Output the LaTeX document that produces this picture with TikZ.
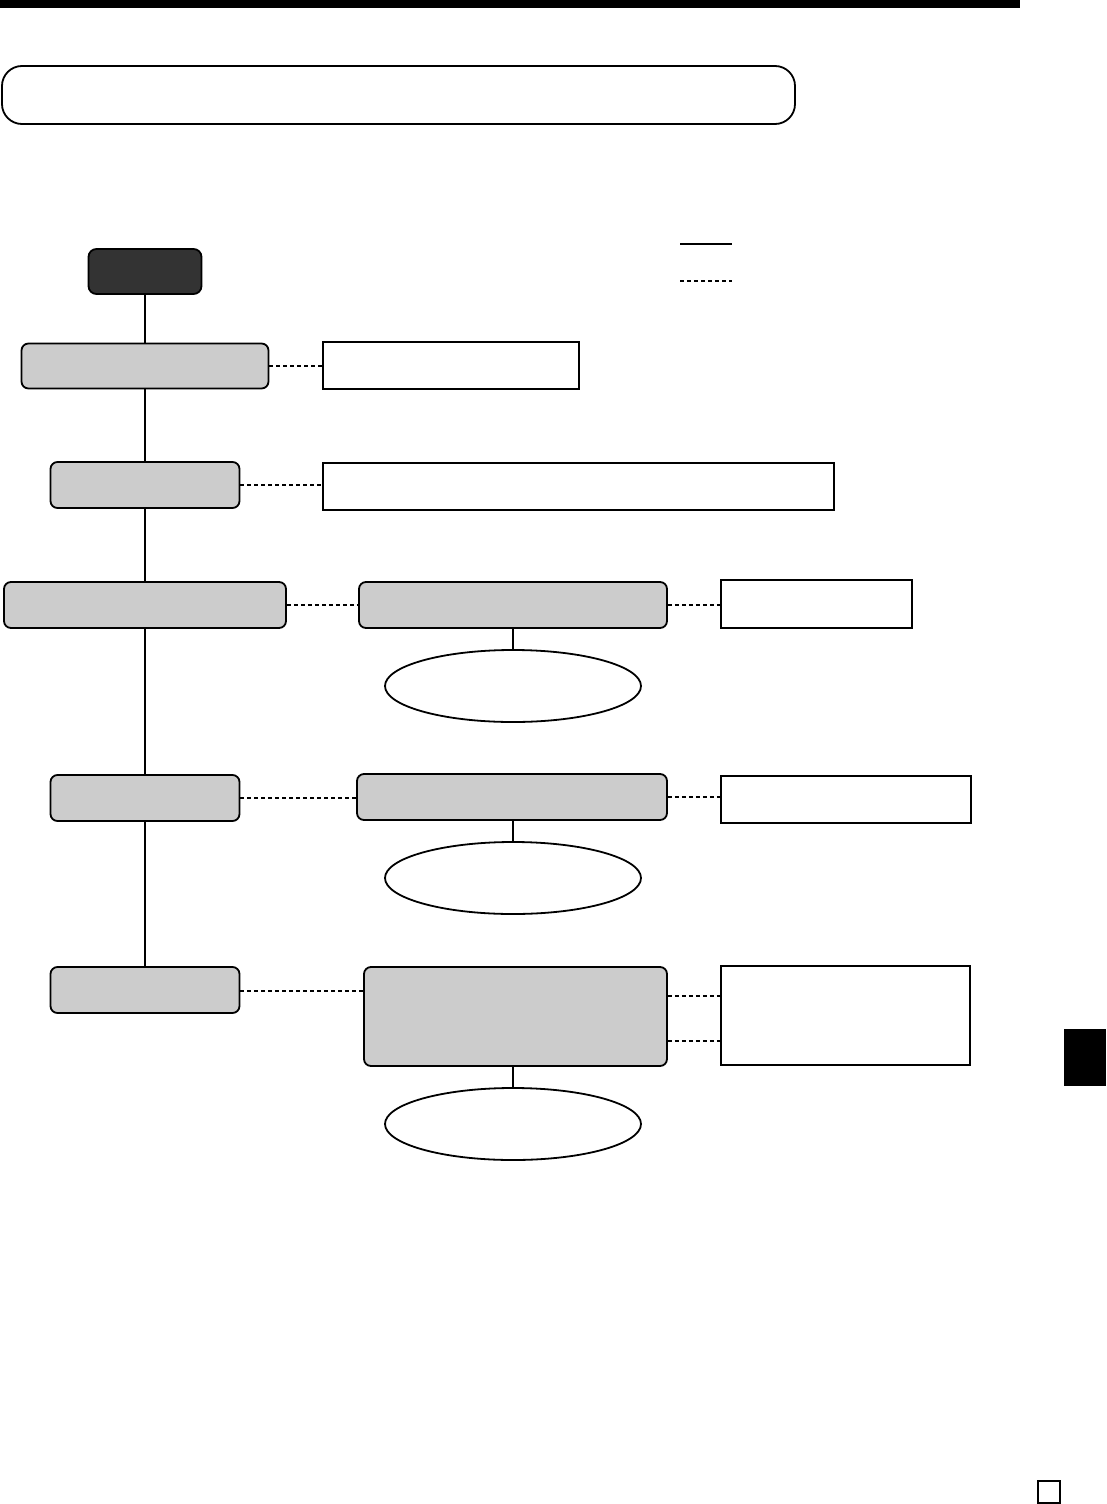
\documentclass[tikz,border=0pt]{standalone}
\usetikzlibrary{shapes.geometric}
\begin{document}
\begin{tikzpicture}[x=1pt,y=-1pt,
  graybox/.style={draw=black,line width=1.8pt,fill=black!20,rounded corners=7pt,minimum height=46pt,inner sep=0pt},
  darkbox/.style={draw=black,line width=1.8pt,fill=black!80,rounded corners=8pt,minimum width=113pt,minimum height=45pt,inner sep=0pt},
  whitebox/.style={draw=black,line width=2pt,fill=white,minimum height=47pt,inner sep=0pt},
  ovalnode/.style={draw=black,line width=1.8pt,ellipse,minimum width=256pt,minimum height=72pt,inner sep=0pt},
  solidcon/.style={line width=2pt},
  dashcon/.style={line width=2pt,dash pattern=on 4pt off 3pt}]
\useasboundingbox (0,0) rectangle (1106,1504);
% top bar
\fill[black] (0,0) rectangle (1020,8);
% title banner
\node[draw=black,line width=1.8pt,rounded corners=20pt,minimum width=793pt,minimum height=58pt,inner sep=0pt] (title) at (398.5,95) {};
% legend
\coordinate (l1a) at (680,244); \coordinate (l1b) at (732,244);
\coordinate (l2a) at (680,281); \coordinate (l2b) at (732,281);
\draw[line width=2pt] (l1a) -- (l1b);
\draw[dashcon] (l2a) -- (l2b);
% nodes
\node[darkbox] (start) at (145,271.5) {};
\node[graybox,minimum width=247pt,minimum height=45pt] (a) at (145,366) {};
\node[whitebox,minimum width=256pt] (ar) at (451,365) {};
\node[graybox,minimum width=189pt] (b) at (145,485) {};
\node[whitebox,minimum width=511pt] (br) at (578.5,486) {};
\node[graybox,minimum width=282pt] (c) at (145,605) {};
\node[graybox,minimum width=308pt] (c2) at (513,605) {};
\node[whitebox,minimum width=191pt,minimum height=48pt] (cr) at (816.5,604) {};
\node[ovalnode] (ce) at (513,686) {};
\node[graybox,minimum width=189pt] (d) at (145,798) {};
\node[graybox,minimum width=310pt] (d2) at (512,797) {};
\node[whitebox,minimum width=250pt] (dr) at (846,799) {};
\node[ovalnode] (de) at (513,878) {};
\node[graybox,minimum width=189pt] (e) at (145,990) {};
\node[graybox,minimum width=303pt,minimum height=99pt] (e2) at (515.5,1016.5) {};
\node[whitebox,line width=2.6pt,minimum width=249pt,minimum height=99pt] (er) at (845.5,1015.5) {};
\node[ovalnode] (ee) at (513,1124) {};
% tab and square
\fill[black] (1064,1029) rectangle (1106,1086);
\node[draw=black,line width=1.6pt,minimum width=22pt,minimum height=22pt,inner sep=0pt] (sq) at (1049,1492) {};
% trunk
\draw[solidcon] (start.south) -- (a.north);
\draw[solidcon] (a.south) -- (b.north);
\draw[solidcon] (b.south) -- (c.north);
\draw[solidcon] (c.south) -- (d.north);
\draw[solidcon] (d.south) -- (e.north);
\draw[solidcon] (ce.north |- c2.south) -- (ce.north);
\draw[solidcon] (de.north |- d2.south) -- (de.north);
\draw[solidcon] (ee.north |- e2.south) -- (ee.north);
% dashed
\draw[dashcon] (a.east) -- (a.east -| ar.west);
\draw[dashcon] (b.east) -- (b.east -| br.west);
\draw[dashcon] (c.east) -- (c.east -| c2.west);
\draw[dashcon] (c2.east) -- (c2.east -| cr.west);
\draw[dashcon] (d.east) -- (d.east -| d2.west);
\draw[dashcon] (d2.east) -- (d2.east -| dr.west);
\draw[dashcon] ([yshift=-1pt]e.east) -- ([yshift=-1pt]e.east -| e2.west);
\draw[dashcon] ([yshift=-24.5pt]e2.east) -- ([yshift=-24.5pt]e2.east -| er.west);
\draw[dashcon] ([yshift=20.5pt]e2.east) -- ([yshift=20.5pt]e2.east -| er.west);
\end{tikzpicture}
\end{document}
